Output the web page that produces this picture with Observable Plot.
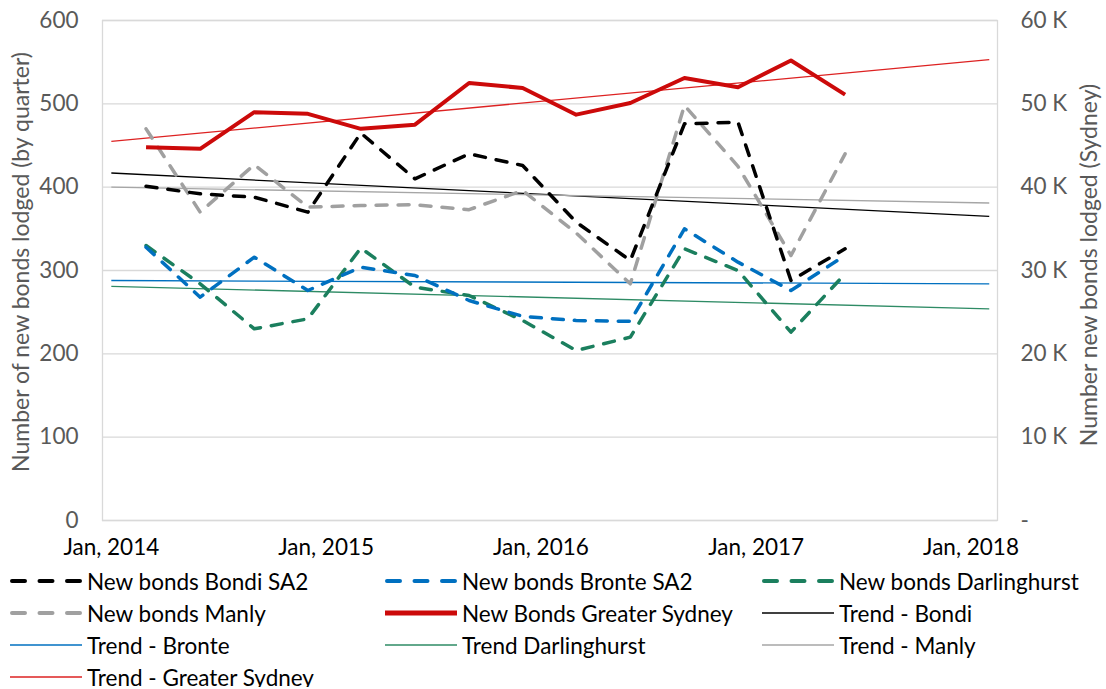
<!DOCTYPE html>
<html>
<head>
<meta charset="utf-8">
<script src="https://cdn.jsdelivr.net/npm/d3@7"></script>
<script src="https://cdn.jsdelivr.net/npm/@observablehq/plot@0.6"></script>
<style>
  body { margin: 0; background: #fff; font-family: Lato, "Open Sans", sans-serif; }
  #chart { position: relative; width: 1106px; }
  #legend { position: relative; width: 1106px; height: 125px; color: #000; font-size: 22.5px; }
  .item { position: absolute; display: flex; align-items: center; height: 30px; white-space: nowrap; }
  .item svg { margin-right: 5px; }
</style>
</head>
<body>
<div id="chart"></div>
<div id="legend"></div>
<script>
// ---- data ----
const quarters = ["2014-03-01","2014-06-01","2014-09-01","2014-12-01","2015-03-01","2015-06-01","2015-09-01",
                  "2015-12-01","2016-03-01","2016-06-01","2016-09-01","2016-12-01","2017-03-01","2017-06-01"];
const bondi        = [401, 392, 388, 370, 465, 410, 440, 426, 358, 312, 476, 478, 288, 326];
const bronte       = [328, 268, 316, 276, 304, 294, 264, 245, 240, 239, 350, 310, 276, 318];
const darlinghurst = [330, 284, 230, 242, 327, 280, 270, 240, 204, 220, 326, 300, 226, 296];
const manly        = [470, 370, 427, 376, 378, 379, 373, 396, 345, 284, 498, 425, 318, 440];
const sydney       = [44800, 44600, 49000, 48800, 47000, 47500, 52500, 51900, 48700, 50100, 53100, 52000, 55200, 51100];

const trendDates       = ["2014-01-01", "2018-02-01"];
const trendBondi       = [417, 365];
const trendBronte      = [288, 284];
const trendDarlinghurst= [281, 254];
const trendManly       = [400, 381];
const trendSydney      = [45500, 55300];

const xTickDates  = ["2014-01-01","2015-01-01","2016-01-01","2017-01-01","2018-01-01"];
const leftTicks   = [0, 100, 200, 300, 400, 500, 600];
const rightLabels = ["-", "10 K", "20 K", "30 K", "40 K", "50 K", "60 K"];

const series = [
  {name: "New bonds Bondi SA2",       values: bondi,        dates: quarters,  secondary: false, color: "#000000", width: 3.5, dash: "11,11"},
  {name: "New bonds Bronte SA2",      values: bronte,       dates: quarters,  secondary: false, color: "#0070C0", width: 3.5, dash: "11,11"},
  {name: "New bonds Darlinghurst",    values: darlinghurst, dates: quarters,  secondary: false, color: "#1B7F5E", width: 3.5, dash: "11,11"},
  {name: "New bonds Manly",           values: manly,        dates: quarters,  secondary: false, color: "#A0A0A0", width: 3.5, dash: "11,11"},
  {name: "New Bonds Greater Sydney",  values: sydney,       dates: quarters,  secondary: true,  color: "#CC0A0A", width: 4,   dash: null},
  {name: "Trend - Bondi",             values: trendBondi,   dates: trendDates, secondary: false, color: "#000000", width: 1.3, dash: null},
  {name: "Trend - Bronte",            values: trendBronte,  dates: trendDates, secondary: false, color: "#0070C0", width: 1.3, dash: null},
  {name: "Trend Darlinghurst",        values: trendDarlinghurst, dates: trendDates, secondary: false, color: "#2E8B65", width: 1.3, dash: null},
  {name: "Trend - Manly",             values: trendManly,   dates: trendDates, secondary: false, color: "#A6A6A6", width: 1.3, dash: null},
  {name: "Trend - Greater Sydney",    values: trendSydney,  dates: trendDates, secondary: true,  color: "#DD2222", width: 1.3, dash: null}
];

// secondary axis: 60 K on the right aligns with 600 on the left
const toLeft = (s, v) => s.secondary ? v / 100 : v;
const rows = s => s.values.map((v, i) => ({date: new Date(s.dates[i]), y: toLeft(s, v)}));

const FONT = 'Lato, "Open Sans", sans-serif';
const drawOrder = [5,6,7,8,9,3,2,1,0,4];

const marks = [
  Plot.gridY(leftTicks, {stroke: "#D9D9D9", strokeOpacity: 1, strokeWidth: 1.3}),
  Plot.frame({stroke: "#D9D9D9", strokeWidth: 1.3}),
  ...drawOrder.map(i => {
    const s = series[i];
    return Plot.line(rows(s), {x: "date", y: "y", stroke: s.color, strokeWidth: s.width,
      strokeDasharray: s.dash || undefined, strokeLinecap: s.dash ? "round" : "butt", strokeLinejoin: "round"});
  }),
  Plot.axisX(xTickDates.map(d => new Date(d)), {tickSize: 0, tickPadding: 19, tickFormat: d3.utcFormat("Jan, %Y"), fill: "#000", label: null}),
  Plot.axisY(leftTicks, {anchor: "left", tickSize: 0, tickPadding: 24, label: null, fill: "#595959"}),
  Plot.axisY(leftTicks, {anchor: "right", tickSize: 0, tickPadding: 23, label: null, fill: "#595959",
    tickFormat: d => rightLabels[leftTicks.indexOf(d)]})
];

const chart = Plot.plot({
  width: 1106, height: 562,
  marginLeft: 102, marginRight: 109, marginTop: 20, marginBottom: 42,
  style: {fontFamily: FONT, fontSize: "22.5px", color: "#595959", background: "#fff", overflow: "visible"},
  x: {type: "utc", domain: [new Date("2013-12-17"), new Date("2018-02-15")]},
  y: {domain: [0, 600]},
  marks
});

// axis titles
const svg = d3.select(chart);
svg.append("text").attr("transform", "translate(29,262) rotate(-90)").attr("text-anchor", "middle")
  .attr("fill", "#595959").style("font-family", FONT).style("font-size", "23px")
  .text("Number of new bonds lodged (by quarter)");
svg.append("text").attr("transform", "translate(1097,265) rotate(-90)").attr("text-anchor", "middle")
  .attr("fill", "#595959").style("font-family", FONT).style("font-size", "23px")
  .text("Number new bonds lodged (Sydney)");

document.getElementById("chart").appendChild(chart);

// legend
const legend = document.getElementById("legend");
const colX = [10, 385, 762];
series.forEach((s, i) => {
  const col = i % 3, row = Math.floor(i / 3);
  const item = document.createElement("div");
  item.className = "item";
  item.style.left = colX[col] + "px";
  item.style.top = (4 + row * 32) + "px";
  const sw = d3.create("svg").attr("width", 72).attr("height", 14);
  sw.append("line").attr("x1", s.dash ? 2 : 0).attr("x2", s.dash ? 70 : 72).attr("y1", 7).attr("y2", 7)
    .attr("stroke", s.color).attr("stroke-width", s.dash ? 4 : (s.width > 2 ? 5 : 1.5))
    .attr("stroke-dasharray", s.dash ? "13,14.5" : null)
    .attr("stroke-linecap", s.dash ? "round" : "butt");
  item.appendChild(sw.node());
  const t = document.createElement("span");
  t.textContent = s.name;
  item.appendChild(t);
  legend.appendChild(item);
});
</script>
</body>
</html>
